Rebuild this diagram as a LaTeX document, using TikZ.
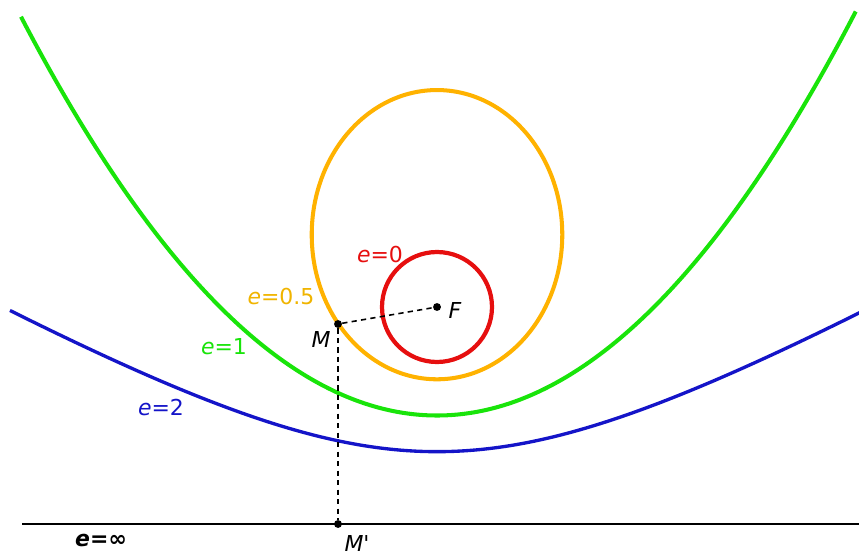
\documentclass[tikz,border=0pt]{standalone}
\usepackage{fontspec}
\setmainfont{DejaVu Sans}
\begin{document}
\begin{tikzpicture}[x=0.02cm,y=-0.02cm,
  curve/.style={line width=2.3pt},
  lbl/.style={font=\fontsize{12.5}{14}\selectfont, inner sep=0pt},
  pt/.style={circle, fill=black, inner sep=0pt, minimum size=4.5pt},
  guide/.style={dashed, dash pattern=on 3pt off 2.4pt, line width=0.9pt}]
\definecolor{cgreen}{RGB}{25,228,10}
\definecolor{corange}{RGB}{255,178,0}
\definecolor{clabel}{RGB}{240,180,0}
\definecolor{cred}{RGB}{230,15,15}
\definecolor{cblue}{RGB}{20,20,200}
\useasboundingbox (0,0) rectangle (859,554);
\begin{scope}
\clip (0,0) rectangle (859,554);
% directrix
\draw[line width=1.1pt] (22,524) -- (859,524);
% parabola e=1
\draw[curve, cgreen] plot[domain=-4.16:4.19, samples=200, smooth]
  ({437+100*\x},{307-(23.0415*\x*\x-108.5)});
% hyperbola e=2
\draw[line width=1.9pt, cblue] plot[domain=-4.27:4.25, samples=200, smooth]
  ({437+100*\x},{307-((-1736+100*sqrt(75.3424+12*\x*\x))/6)});
% ellipse e=0.5
\draw[curve, corange] (437,234.67) ellipse [x radius=2.506cm, y radius=2.893cm];
% circle e=0
\draw[line width=2.4pt, cred] (437,307) circle [radius=1.1cm];
\end{scope}
% points
\node[pt] (F) at (437,307) {};
\node[pt] (M) at (338,324) {};
\node[pt] (Mp) at (338,524) {};
\draw[guide] (M) -- (F);
\draw[guide] (M) -- (Mp);
% labels
\node[lbl, cred] (l0) at (380,255) {\textit{e}=0};
\node[lbl, clabel] (l05) at (281,297) {\textit{e}=0.5};
\node[lbl, cgreen] (l1) at (224,347) {\textit{e}=1};
\node[lbl, cblue] (l2) at (161,408) {\textit{e}=2};
\node[lbl, font=\fontsize{12.5}{14}\selectfont\bfseries] (linf) at (101,541) {\textit{e}=∞};
\node[lbl] (lM) at (321,339) {\textit{M}};
\node[lbl] (lF) at (455,310) {\textit{F}};
\node[lbl] (lMp) at (357,543) {\textit{M}\textquotesingle};
\end{tikzpicture}
\end{document}
